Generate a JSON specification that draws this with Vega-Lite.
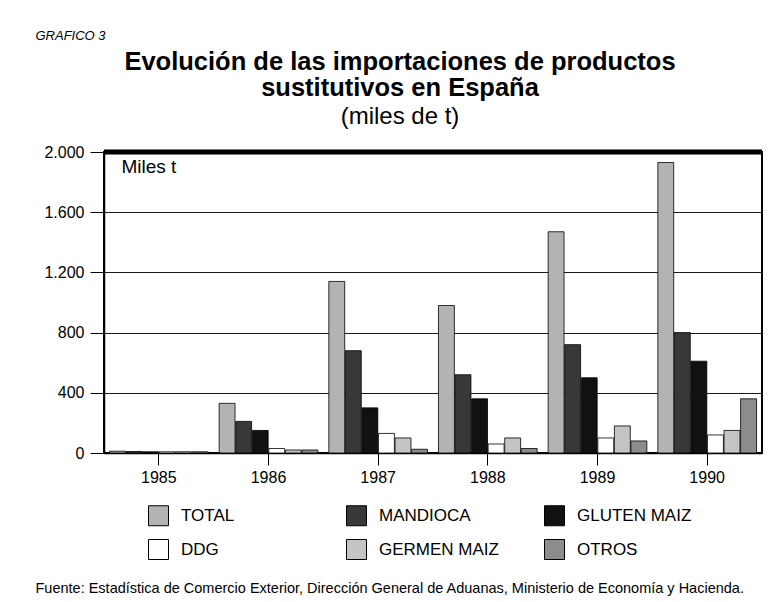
{
  "$schema": "https://vega.github.io/schema/vega-lite/v6.json",
  "autosize": {"type": "none"},
  "width": 658,
  "height": 301,
  "padding": {"left": 104, "top": 152, "right": 17, "bottom": 149},
  "background": "#ffffff",
  "config": {
    "font": "Liberation Sans",
    "view": {"stroke": "#000000", "strokeWidth": 2}
  },
  "title": {
    "text": ["Evolución de las importaciones de productos", "sustitutivos en España"],
    "subtitle": "(miles de t)",
    "frame": "group",
    "anchor": "middle",
    "font": "Liberation Sans",
    "fontSize": 25.5,
    "fontWeight": "bold",
    "lineHeight": 26,
    "color": "#000000",
    "subtitleFont": "Liberation Sans",
    "subtitleFontSize": 24,
    "subtitleColor": "#000000",
    "subtitlePadding": 4,
    "offset": -100,
    "dx": -33
  },
  "data": {
    "values": [
      {"anio": "1985", "producto": "TOTAL", "valor": 12},
      {"anio": "1985", "producto": "MANDIOCA", "valor": 10},
      {"anio": "1985", "producto": "GLUTEN MAIZ", "valor": 8},
      {"anio": "1985", "producto": "DDG", "valor": 8},
      {"anio": "1985", "producto": "GERMEN MAIZ", "valor": 8},
      {"anio": "1985", "producto": "OTROS", "valor": 8},
      {"anio": "1986", "producto": "TOTAL", "valor": 330},
      {"anio": "1986", "producto": "MANDIOCA", "valor": 210},
      {"anio": "1986", "producto": "GLUTEN MAIZ", "valor": 150},
      {"anio": "1986", "producto": "DDG", "valor": 30},
      {"anio": "1986", "producto": "GERMEN MAIZ", "valor": 20},
      {"anio": "1986", "producto": "OTROS", "valor": 20},
      {"anio": "1987", "producto": "TOTAL", "valor": 1140},
      {"anio": "1987", "producto": "MANDIOCA", "valor": 680},
      {"anio": "1987", "producto": "GLUTEN MAIZ", "valor": 300},
      {"anio": "1987", "producto": "DDG", "valor": 130},
      {"anio": "1987", "producto": "GERMEN MAIZ", "valor": 100},
      {"anio": "1987", "producto": "OTROS", "valor": 25},
      {"anio": "1988", "producto": "TOTAL", "valor": 980},
      {"anio": "1988", "producto": "MANDIOCA", "valor": 520},
      {"anio": "1988", "producto": "GLUTEN MAIZ", "valor": 360},
      {"anio": "1988", "producto": "DDG", "valor": 60},
      {"anio": "1988", "producto": "GERMEN MAIZ", "valor": 100},
      {"anio": "1988", "producto": "OTROS", "valor": 30},
      {"anio": "1989", "producto": "TOTAL", "valor": 1470},
      {"anio": "1989", "producto": "MANDIOCA", "valor": 720},
      {"anio": "1989", "producto": "GLUTEN MAIZ", "valor": 500},
      {"anio": "1989", "producto": "DDG", "valor": 100},
      {"anio": "1989", "producto": "GERMEN MAIZ", "valor": 180},
      {"anio": "1989", "producto": "OTROS", "valor": 80},
      {"anio": "1990", "producto": "TOTAL", "valor": 1930},
      {"anio": "1990", "producto": "MANDIOCA", "valor": 800},
      {"anio": "1990", "producto": "GLUTEN MAIZ", "valor": 610},
      {"anio": "1990", "producto": "DDG", "valor": 120},
      {"anio": "1990", "producto": "GERMEN MAIZ", "valor": 150},
      {"anio": "1990", "producto": "OTROS", "valor": 360}
    ]
  },
  "layer": [
    {
      "mark": {"type": "bar", "stroke": "#000000", "strokeWidth": 0.8},
      "encoding": {
        "x": {
          "field": "anio",
          "type": "nominal",
          "scale": {"paddingInner": 0.1, "paddingOuter": 0.05},
          "axis": {
            "title": "Fuente: Estadística de Comercio Exterior, Dirección General de Aduanas, Ministerio de Economía y Hacienda.",
            "titleFont": "Liberation Sans",
            "titleFontSize": 14.5,
            "titleFontWeight": "normal",
            "titleColor": "#000000",
            "titleAlign": "left",
            "titleAnchor": "start",
            "titleBaseline": "alphabetic",
            "titleX": -69,
            "titleY": 139,
            "labelAngle": 0,
            "labelFontSize": 16,
            "labelColor": "#000000",
            "labelPadding": 4,
            "tickSize": 12,
            "tickColor": "#000000",
            "domainColor": "#000000",
            "domainWidth": 1.5
          }
        },
        "xOffset": {
          "field": "producto",
          "type": "nominal",
          "sort": ["TOTAL", "MANDIOCA", "GLUTEN MAIZ", "DDG", "GERMEN MAIZ", "OTROS"],
          "scale": {"paddingInner": 0.04}
        },
        "y": {
          "field": "valor",
          "type": "quantitative",
          "scale": {"domain": [0, 2000]},
          "axis": {
            "values": [0, 400, 800, 1200, 1600, 2000],
            "labelExpr": "replace(format(datum.value, ','), ',', '.')",
            "labelFontSize": 16,
            "labelColor": "#000000",
            "labelPadding": 6,
            "tickSize": 14,
            "tickColor": "#000000",
            "domainColor": "#000000",
            "domainWidth": 1.5,
            "gridColor": "#1a1a1a",
            "gridWidth": 1,
            "title": "GRAFICO 3",
            "titleFont": "Liberation Sans",
            "titleFontSize": 13,
            "titleFontStyle": "italic",
            "titleFontWeight": "normal",
            "titleColor": "#000000",
            "titleAngle": 0,
            "titleAlign": "left",
            "titleBaseline": "alphabetic",
            "titleX": -69,
            "titleY": -113
          }
        },
        "fill": {
          "field": "producto",
          "type": "nominal",
          "sort": ["TOTAL", "MANDIOCA", "GLUTEN MAIZ", "DDG", "GERMEN MAIZ", "OTROS"],
          "scale": {
            "domain": ["TOTAL", "MANDIOCA", "GLUTEN MAIZ", "DDG", "GERMEN MAIZ", "OTROS"],
            "range": ["#b3b3b3", "#383838", "#111111", "#ffffff", "#c4c4c4", "#8c8c8c"]
          },
          "legend": {
            "title": null,
            "orient": "none",
            "legendX": 44,
            "legendY": 353,
            "direction": "horizontal",
            "columns": 3,
            "gridAlign": "all",
            "columnPadding": 43,
            "rowPadding": 9,
            "symbolType": "square",
            "symbolSize": 400,
            "symbolStrokeColor": "#000000",
            "symbolStrokeWidth": 1,
            "symbolOpacity": 1,
            "labelFontSize": 17,
            "labelColor": "#000000",
            "labelOffset": 12,
            "labelLimit": 200
          }
        }
      }
    },
    {
      "data": {"values": [{}]},
      "mark": {"type": "rule", "color": "#000000", "strokeWidth": 5},
      "encoding": {"y": {"datum": 2000}}
    },
    {
      "data": {"values": [{}]},
      "mark": {"type": "text", "align": "center", "baseline": "top", "fontSize": 19, "dx": -10, "dy": 6, "color": "#000000"},
      "encoding": {
        "x": {"datum": "1985"},
        "y": {"datum": 2000},
        "text": {"value": "Miles t"}
      }
    }
  ]
}
